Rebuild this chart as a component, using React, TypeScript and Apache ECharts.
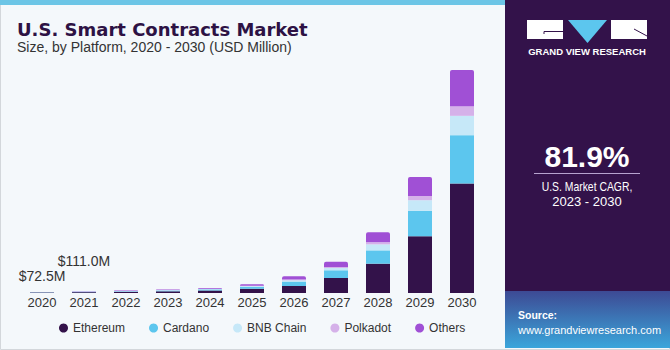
import React, { useEffect, useRef } from "react";
import * as echarts from "echarts";

const years = ["2020", "2021", "2022", "2023", "2024", "2025", "2026", "2027", "2028", "2029", "2030"];
const seriesNames = ["Ethereum", "Cardano", "BNB Chain", "Polkadot", "Others"];
const ethereum = [35.5, 54.4, 78, 110, 162, 277, 456, 977, 1907, 3691, 7122];
const cardano = [16.0, 24.4, 35, 50, 73, 125, 286, 501, 866, 1647, 3144];
const bnbChain = [6.2, 9.4, 14, 19, 28, 48, 85, 150, 391, 697, 1256];
const polkadot = [2.6, 3.9, 6, 8, 11, 20, 46, 65, 130, 280, 631];
const others = [12.2, 18.9, 27, 38, 56, 96, 215, 345, 651, 1237, 2344];
const totalLabels = ["$72.5M", "$111.0M"];
const colors = ["#33124a", "#5cc6ee", "#c6e8f8", "#d5b1e9", "#a050d5"];

const cagrValue = "81.9%";
const cagrLabel1 = "U.S. Market CAGR,";
const cagrLabel2 = "2023 - 2030";

const labelDistances = [9, 23];

export default function App() {
  const ref = useRef<HTMLDivElement>(null);
  useEffect(() => {
    if (!ref.current) return;
    const chart = echarts.init(ref.current, null, { renderer: "svg" });
    const dataSets = [ethereum, cardano, bnbChain, polkadot, others];
    const series = dataSets.map((arr, si) => ({
      name: seriesNames[si],
      type: "bar",
      stack: "total",
      barWidth: 24,
      itemStyle: {
        color: colors[si],
        borderRadius: si === 4 ? [2, 2, 0, 0] : 0,
      },
      data:
        si === 4
          ? arr.map((v, i) =>
              i < totalLabels.length
                ? {
                    value: v,
                    label: {
                      show: true,
                      position: "top",
                      distance: labelDistances[i],
                      formatter: totalLabels[i],
                      color: "#333",
                      fontSize: 14,
                      fontFamily: "'Liberation Sans', Arial, sans-serif",
                    },
                  }
                : v
            )
          : arr,
    }));
    const sans = "'Liberation Sans', Arial, sans-serif";
    chart.setOption({
      animation: false,
      backgroundColor: "#f4f8fb",
      grid: { left: 21, width: 462, top: 47, bottom: 57 },
      xAxis: {
        type: "category",
        data: years,
        axisLine: { show: false },
        axisTick: { show: false },
        axisLabel: { color: "#333", fontSize: 13, margin: 3, fontFamily: sans },
      },
      yAxis: { type: "value", min: 0, max: 16000, show: false, splitLine: { show: false } },
      legend: {
        data: seriesNames,
        left: 59,
        top: 322,
        icon: "circle",
        itemWidth: 9,
        itemHeight: 9,
        itemGap: 24,
        padding: 0,
        textStyle: { color: "#333", fontSize: 12, fontFamily: sans },
      },
      series,
      graphic: [
        { type: "rect", z: -1, shape: { x: 0.5, y: 0.5, width: 669, height: 349 }, style: { fill: "none", stroke: "#d3d7db", lineWidth: 1 } },
        { type: "rect", shape: { x: 0, y: 0, width: 505, height: 5 }, style: { fill: "#6cc5e6" } },
        { type: "rect", shape: { x: 505, y: 0, width: 165, height: 291 }, style: { fill: "#33124a" } },
        {
          type: "rect",
          shape: { x: 505, y: 291, width: 165, height: 57 },
          style: {
            fill: new echarts.graphic.LinearGradient(0, 0, 0, 1, [
              { offset: 0, color: "#3d4a94" },
              { offset: 1, color: "#3ba6db" },
            ]),
          },
        },
        {
          type: "text",
          x: 17,
          y: 29,
          style: {
            text: "U.S. Smart Contracts Market",
            fill: "#2d1244",
            font: "bold 18px 'DejaVu Sans', sans-serif",
            verticalAlign: "middle",
          },
        },
        {
          type: "text",
          x: 17,
          y: 47,
          style: {
            text: "Size, by Platform, 2020 - 2030 (USD Million)",
            fill: "#333",
            font: "14px 'Liberation Sans', Arial, sans-serif",
            verticalAlign: "middle",
          },
        },
        // logo
        { type: "rect", shape: { x: 527, y: 20, width: 36, height: 19 }, style: { fill: "#ffffff" } },
        { type: "polygon", shape: { points: [[568, 20], [607, 20], [587.5, 43]] }, style: { fill: "#5cc6ee" } },
        { type: "rect", shape: { x: 611, y: 20, width: 36, height: 19 }, style: { fill: "#ffffff" } },
        { type: "polyline", shape: { points: [[544, 34], [544, 31.5], [563, 31.5]] }, style: { stroke: "#33124a", lineWidth: 1, fill: "none" } },
        { type: "line", shape: { x1: 634, y1: 29, x2: 647, y2: 36 }, style: { stroke: "#33124a", lineWidth: 1 } },
        {
          type: "text",
          x: 587,
          y: 51,
          style: {
            text: "GRAND VIEW RESEARCH",
            fill: "#ffffff",
            font: "bold 9.5px 'Liberation Sans', Arial, sans-serif",
            align: "center",
            verticalAlign: "middle",
          },
        },
        {
          type: "text",
          x: 587,
          y: 156,
          style: {
            text: cagrValue,
            fill: "#ffffff",
            font: "bold 30px 'Liberation Sans', Arial, sans-serif",
            align: "center",
            verticalAlign: "middle",
          },
        },
        { type: "line", shape: { x1: 534, y1: 173.5, x2: 640, y2: 173.5 }, style: { stroke: "#b7a3cf", lineWidth: 1 } },
        {
          type: "text",
          x: 587,
          y: 186,
          scaleX: 0.8,
          style: {
            text: cagrLabel1,
            fill: "#ffffff",
            font: "13px 'Liberation Sans', Arial, sans-serif",
            align: "center",
            verticalAlign: "middle",
          },
        },
        {
          type: "text",
          x: 587,
          y: 201,
          style: {
            text: cagrLabel2,
            fill: "#ffffff",
            font: "13px 'Liberation Sans', Arial, sans-serif",
            align: "center",
            verticalAlign: "middle",
          },
        },
        {
          type: "text",
          x: 518,
          y: 315,
          style: {
            text: "Source:",
            fill: "#ffffff",
            font: "bold 10.5px 'Liberation Sans', Arial, sans-serif",
            verticalAlign: "middle",
          },
        },
        {
          type: "text",
          x: 518,
          y: 330,
          style: {
            text: "www.grandviewresearch.com",
            fill: "#ffffff",
            font: "11px 'Liberation Sans', Arial, sans-serif",
            verticalAlign: "middle",
          },
        },
      ],
    });
    return () => chart.dispose();
  }, []);
  return <div ref={ref} style={{ position: "absolute", left: 0, top: 0, width: 670, height: 350 }} />;
}
